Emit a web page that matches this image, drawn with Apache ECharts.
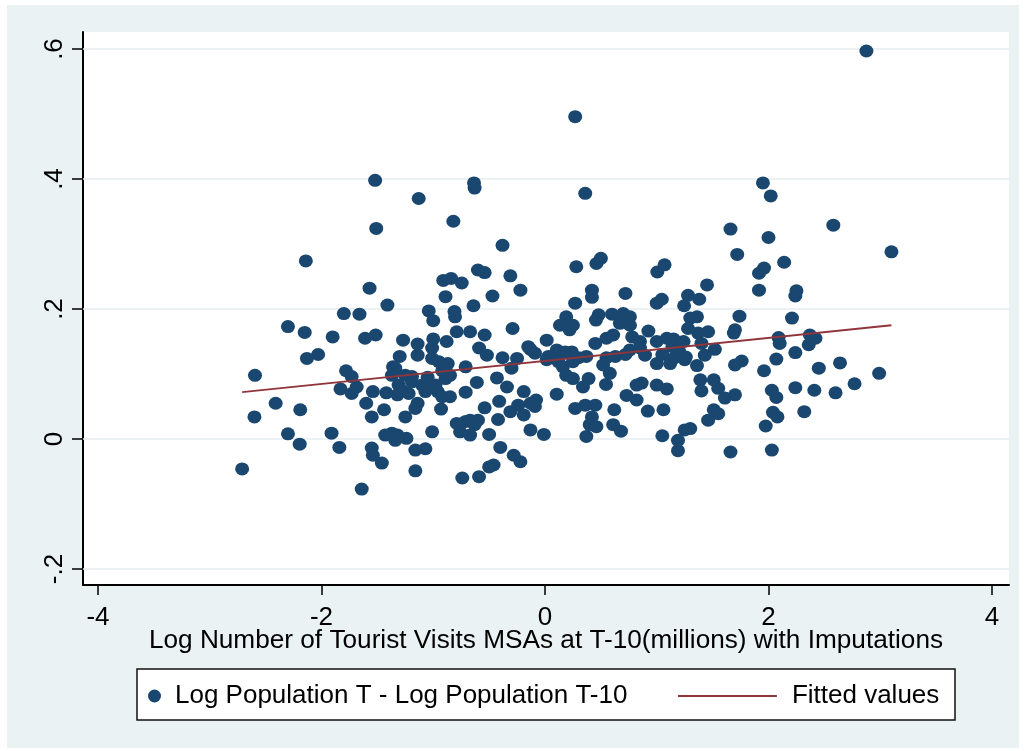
<!DOCTYPE html>
<html>
<head>
<meta charset="utf-8">
<title>Tourist visits vs population growth</title>
<script src="https://cdn.jsdelivr.net/npm/echarts@6.0.0/dist/echarts.min.js"></script>
<style>
  html, body { margin: 0; padding: 0; background: #ffffff; }
  #frame { position: absolute; left: 7px; top: 5px; width: 1012px; height: 743px; background: #eaf2f3; }
  #scatter-chart { position: absolute; left: 0; top: 0; width: 1026px; height: 751px; }
</style>
</head>
<body>
<div id="frame"></div>
<div id="scatter-chart"></div>
<script>
// log tourist visits at T-10 (x) and log population change (y)
const tourismX = [
  2.876, 0.27, -1.52, -1.13, -0.635, -0.63, 0.36, 1.95, 2.02, -1.51,
  -0.82, 1.66, 2.58, 2.0, -0.38, 3.10, 1.72, -2.14, 0.50, 0.46,
  0.28, 1.07, 1.005, 2.14, 1.96, 1.915, -0.60, -0.54, -0.31, -0.91,
  -0.84, -0.745, 1.45, -1.57, -0.22, 0.42, 0.42, 1.915, 2.25, 2.24,
  0.72, -0.47, -0.89, 1.28, 1.38, 1.045, 1.0, -1.41, 0.27, 1.245,
  -0.64, -1.04, -0.81, -0.805, -1.80, -1.66, 0.60, 0.70, 0.48, 1.74,
  2.21, 0.19, -1.0, 1.30, 1.36, 0.456, -2.30, 0.134, 0.25, 0.22,
  0.67, 0.76, 0.76, -2.15, -0.67, -0.54, -0.79, -0.29, -1.515, 1.70,
  1.69, 1.46, 1.37, 1.28, 0.925, -1.90, -1.61, 0.55, 0.61, 2.37,
  2.42, 2.09, 2.10, -1.27, -1.0, -0.88, 0.015, 0.78, 0.85, 1.0,
  1.09, 1.15, 1.24, 1.40, 0.45, -1.14, -1.01, -0.59, -0.15, -0.13,
  1.14, 0.105, 1.52, 2.36, 0.18, 0.24, -0.09, 0.76, 2.24, -1.30,
  -1.14, -1.01, -0.95, -0.895, -0.52, -0.38, -0.25, -2.13, -2.03, 0.37,
  0.63, 0.72, 0.895, 1.26, 1.16, 1.43, 0.015, 0.03, 0.12, 0.25,
  2.07, 1.25, 1.76, 1.70, 2.64, 1.0, 1.12, 1.36, 0.52, 0.16,
  -0.71, -1.36, -1.34, -0.30, 2.45, -1.78, -0.87, 1.96, 2.99, 0.58,
  -2.595, -1.37, -1.25, -1.19, -1.73, 0.19, -0.89, -0.43, 0.25, 0.39,
  1.39, 1.51, -0.61, -1.19, 0.865, 0.82, 0.546, 2.77, -1.31, -1.10,
  -0.98, 1.0, 0.34, -0.34, -1.685, -1.83, 2.24, 1.55, 1.09, -1.28,
  -1.07, -0.96, -1.54, -1.42, -1.73, 2.03, 2.41, 1.40, -0.71, -0.19,
  0.105, 2.60, 1.70, 0.73, -1.32, -0.92, 2.07, 1.61, 0.82, -0.08,
  -1.60, -2.41, -0.41, -0.13, -1.14, -0.24, 0.36, 0.45, -0.09, -0.54,
  0.27, -1.16, -0.93, -2.19, -1.44, 0.62, 1.06, 0.92, 1.51, 1.55,
  2.32, 2.04, 2.08, -0.31, -0.19, -2.60, -1.55, -1.25, 0.42, -0.42,
  -0.71, -0.79, -0.67, -0.60, -0.63, 1.46, 0.40, 0.46, 0.61, 0.68,
  1.975, 1.30, 1.25, -0.13, -0.76, -1.01, -2.30, -1.91, -1.37, -1.43,
  -1.32, -0.67, -0.50, -0.01, 0.37, 1.05, -1.34, -1.24, 1.19, -2.195,
  -1.84, -1.55, -1.54, -1.16, -1.07, -0.40, 1.19, 1.66, 2.03, -0.28,
  -0.22, -1.46, -0.46, -0.50, -2.71, -1.16, -0.74, -0.59, -1.64, -0.85,
  -0.85, -0.92, -1.05, -1.22, 0.08, 0.30, 0.55, 0.85, 1.2, 1.05
]
const popChangeY = [
  0.597, 0.496, 0.398, 0.370, 0.394, 0.386, 0.378, 0.394, 0.374, 0.324,
  0.335, 0.323, 0.329, 0.31, 0.298, 0.288, 0.284, 0.274, 0.278, 0.270,
  0.265, 0.268, 0.257, 0.272, 0.263, 0.255, 0.260, 0.256, 0.251, 0.244,
  0.247, 0.240, 0.237, 0.232, 0.229, 0.229, 0.218, 0.229, 0.228, 0.220,
  0.224, 0.220, 0.219, 0.221, 0.215, 0.215, 0.209, 0.206, 0.209, 0.205,
  0.205, 0.197, 0.196, 0.188, 0.193, 0.192, 0.192, 0.193, 0.191, 0.189,
  0.186, 0.188, 0.182, 0.186, 0.188, 0.183, 0.173, 0.175, 0.175, 0.168,
  0.178, 0.188, 0.175, 0.164, 0.165, 0.160, 0.165, 0.170, 0.160, 0.168,
  0.163, 0.165, 0.163, 0.170, 0.166, 0.157, 0.155, 0.155, 0.160, 0.160,
  0.155, 0.156, 0.147, 0.152, 0.154, 0.150, 0.152, 0.157, 0.150, 0.150,
  0.155, 0.154, 0.150, 0.147, 0.147, 0.146, 0.140, 0.140, 0.142, 0.138,
  0.142, 0.137, 0.138, 0.145, 0.134, 0.134, 0.132, 0.137, 0.133, 0.127,
  0.129, 0.124, 0.119, 0.114, 0.129, 0.125, 0.124, 0.124, 0.130, 0.127,
  0.127, 0.130, 0.129, 0.126, 0.125, 0.129, 0.122, 0.127, 0.119, 0.119,
  0.123, 0.122, 0.120, 0.114, 0.117, 0.116, 0.116, 0.113, 0.114, 0.111,
  0.111, 0.111, 0.109, 0.109, 0.109, 0.105, 0.116, 0.105, 0.101, 0.101,
  0.098, 0.098, 0.098, 0.096, 0.096, 0.098, 0.093, 0.094, 0.093, 0.093,
  0.091, 0.091, 0.087, 0.088, 0.086, 0.083, 0.084, 0.085, 0.083, 0.083,
  0.083, 0.083, 0.080, 0.080, 0.080, 0.077, 0.079, 0.078, 0.077, 0.075,
  0.073, 0.073, 0.073, 0.071, 0.070, 0.075, 0.075, 0.074, 0.072, 0.073,
  0.069, 0.071, 0.068, 0.067, 0.068, 0.065, 0.064, 0.063, 0.060, 0.060,
  0.055, 0.055, 0.058, 0.055, 0.055, 0.052, 0.052, 0.052, 0.050, 0.048,
  0.047, 0.047, 0.046, 0.045, 0.045, 0.045, 0.045, 0.043, 0.045, 0.039,
  0.042, 0.041, 0.034, 0.042, 0.037, 0.034, 0.034, 0.034, 0.034, 0.030,
  0.027, 0.024, 0.029, 0.029, 0.022, 0.029, 0.022, 0.019, 0.022, 0.012,
  0.020, 0.016, 0.014, 0.014, 0.011, 0.011, 0.008, 0.009, 0.009, 0.006,
  0.006, 0.006, 0.007, 0.007, 0.004, 0.005, -0.002, 0.001, -0.002, -0.008,
  -0.013, -0.014, -0.025, -0.017, -0.015, -0.013, -0.018, -0.020, -0.017, -0.025,
  -0.035, -0.037, -0.040, -0.043, -0.046, -0.049, -0.060, -0.058, -0.077, 0.098,
  0.065, 0.105, 0.095, 0.070, 0.128, 0.125, 0.125, 0.140, 0.135, 0.130
]
// fitted line end points
const fitX = [-2.71, 3.10]
const fitY = [0.072, 0.175]

const xTicks = [-4, -2, 0, 2, 4]
const yTicks = [-0.2, 0, 0.2, 0.4, 0.6]

const scatterName = 'Log Population T - Log Population T-10'
const fitName = 'Fitted values'
const font = '"Liberation Sans", Arial, sans-serif'

const chart = echarts.init(document.getElementById('scatter-chart'))

function fmtY(v) {
  if (Math.abs(v) < 1e-9) return '0'
  return v.toFixed(1).replace('0.', '.')
}

chart.setOption({
  animation: false,
  textStyle: { fontFamily: font },
  grid: {
    left: 83, right: 17, top: 32, bottom: 166,
    show: true, backgroundColor: '#ffffff', borderWidth: 0
  },
  graphic: [{
    type: 'rect',
    z: 0,
    shape: { x: 137, y: 669, width: 818, height: 51 },
    style: { fill: '#ffffff', stroke: '#111111', lineWidth: 1.5 }
  }],
  legend: [{
    data: [scatterName],
    left: 148, top: 683, padding: 0,
    icon: 'circle', itemWidth: 13, itemHeight: 13,
    textStyle: { fontSize: 26, color: '#000', fontFamily: font, padding: [0, 0, 0, 9] },
    selectedMode: false
  }, {
    data: [fitName],
    left: 677, top: 683, padding: 0,
    itemWidth: 99, itemHeight: 13,
    itemStyle: { opacity: 0 },
    lineStyle: { color: '#90353b', width: 1.8 },
    textStyle: { fontSize: 26, color: '#000', fontFamily: font, padding: [0, 0, 0, 10] },
    selectedMode: false
  }],
  xAxis: {
    type: 'value',
    min: -4.134, max: 4.152,
    name: 'Log Number of Tourist Visits MSAs at T-10(millions) with Imputations',
    nameLocation: 'middle',
    nameGap: 43,
    nameMoveOverlap: false,
    nameTextStyle: { fontSize: 26.2, color: '#000', fontFamily: font },
    axisLine: { show: true, onZero: false, lineStyle: { color: '#000', width: 2 } },
    axisTick: { show: true, length: 10, customValues: xTicks, lineStyle: { color: '#000', width: 1.5 } },
    axisLabel: { customValues: xTicks, fontSize: 26, color: '#000', margin: 20, fontFamily: font },
    splitLine: { show: false }
  },
  yAxis: {
    type: 'value',
    min: -0.2246, max: 0.6262,
    axisLine: { show: true, onZero: false, lineStyle: { color: '#000', width: 2 } },
    axisTick: { show: true, length: 11, customValues: yTicks, lineStyle: { color: '#000', width: 1.5 } },
    axisLabel: {
      customValues: yTicks, fontSize: 26, color: '#000', margin: 15, rotate: 90,
      fontFamily: font, formatter: fmtY
    },
    splitLine: { show: false }
  },
  series: [{
    name: scatterName,
    type: 'scatter',
    symbol: 'circle',
    symbolSize: [14, 13],
    itemStyle: { color: '#1a476f', opacity: 1 },
    data: tourismX.map((x, i) => [x, popChangeY[i]]),
    markLine: {
      silent: true,
      z: 1,
      symbol: 'none',
      label: { show: false },
      lineStyle: { color: '#e6eef0', width: 1.5, type: 'solid' },
      emphasis: { disabled: true },
      data: yTicks.map(v => ({ yAxis: v }))
    }
  }, {
    name: fitName,
    type: 'line',
    symbol: 'none',
    showSymbol: false,
    z: 3,
    lineStyle: { color: '#90353b', width: 1.8 },
    itemStyle: { color: '#90353b' },
    data: fitX.map((x, i) => [x, fitY[i]])
  }]
})
</script>
</body>
</html>
